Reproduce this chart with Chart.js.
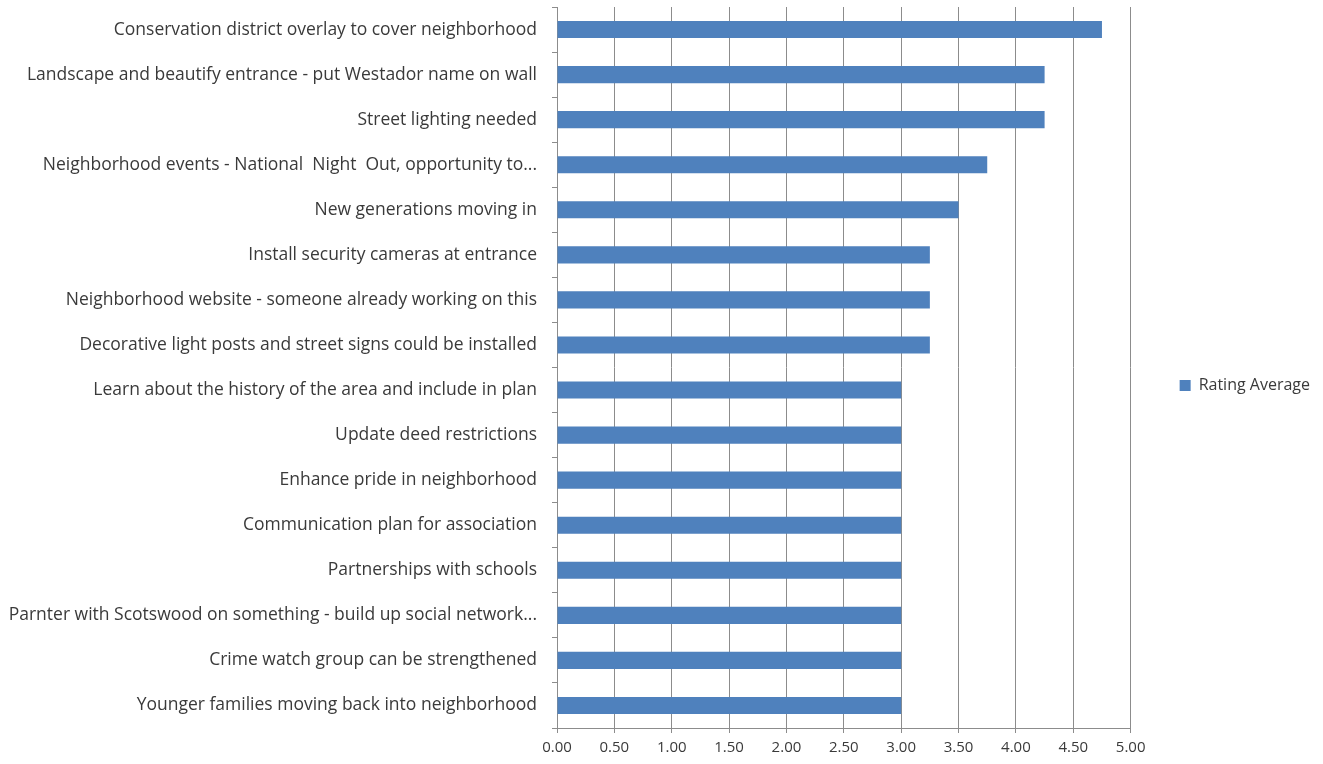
<!DOCTYPE html>
<html>
<head>
<meta charset="utf-8">
<script src="https://cdn.jsdelivr.net/npm/chart.js@4"></script>
<style>
  html, body { margin: 0; padding: 0; background: #fff; }
  #wrap { width: 1323px; height: 764px; }
</style>
</head>
<body>
<div id="wrap"><canvas id="chart" width="1323" height="764"></canvas></div>
<script>
const categories = [
  "Conservation district overlay to cover neighborhood",
  "Landscape and beautify entrance - put Westador name on wall",
  "Street lighting needed",
  "Neighborhood events - National  Night  Out, opportunity to...",
  "New generations moving in",
  "Install security cameras at entrance",
  "Neighborhood website - someone already working on this",
  "Decorative light posts and street signs could be installed",
  "Learn about the history of the area and include in plan",
  "Update deed restrictions",
  "Enhance pride in neighborhood",
  "Communication plan for association",
  "Partnerships with schools",
  "Parnter with Scotswood on something - build up social network...",
  "Crime watch group can be strengthened",
  "Younger families moving back into neighborhood"
];
const ratingAverage = [4.75, 4.25, 4.25, 3.75, 3.5, 3.25, 3.25, 3.25, 3, 3, 3, 3, 3, 3, 3, 3];
const seriesName = "Rating Average";

const barColor = "#4F81BD";
const gridColor = "#8C8C8C";
const textColor = "#3A3A3A";
const fontFamily = "'Open Sans', Lato, sans-serif";

function createChart(canvasRef) {
  return new Chart(canvasRef, {
    type: "bar",
    data: {
      labels: categories,
      datasets: [{
        label: seriesName,
        data: ratingAverage,
        backgroundColor: barColor,
        borderColor: barColor,
        borderWidth: 0,
        categoryPercentage: 1,
        barPercentage: 0.38,
      }],
    },
    options: {
      indexAxis: "y",
      responsive: false,
      animation: false,
      layout: { padding: { top: 7, left: 0, right: 3, bottom: 0 } },
      plugins: {
        tooltip: { enabled: false },
        legend: {
          position: "right",
          labels: {
            boxWidth: 11,
            boxHeight: 11,
            // wide padding gives the gap between plot and legend
            padding: 49,
            color: textColor,
            font: { family: fontFamily, size: 16 },
          },
        },
      },
      scales: {
        x: {
          min: 0,
          max: 5,
          ticks: {
            stepSize: 0.5,
            color: textColor,
            font: { family: fontFamily, size: 15 },
            padding: 6,
            maxRotation: 0,
            callback: (v) => Number(v).toFixed(2),
          },
          grid: { color: gridColor, lineWidth: 1, tickLength: 5 },
          border: { color: gridColor },
          afterFit: (scale) => { scale.height = 36; },
        },
        y: {
          ticks: {
            color: textColor,
            font: { family: fontFamily, size: 17.5 },
            padding: 15,
            autoSkip: false,
          },
          grid: { drawOnChartArea: false, color: gridColor, tickLength: 5 },
          border: { color: gridColor },
          afterFit: (scale) => {
            scale.width = 557;
            scale.paddingTop = 0;
            scale.paddingBottom = 0;
          },
        },
      },
    },
  });
}

createChart(document.getElementById("chart"));
</script>
</body>
</html>
